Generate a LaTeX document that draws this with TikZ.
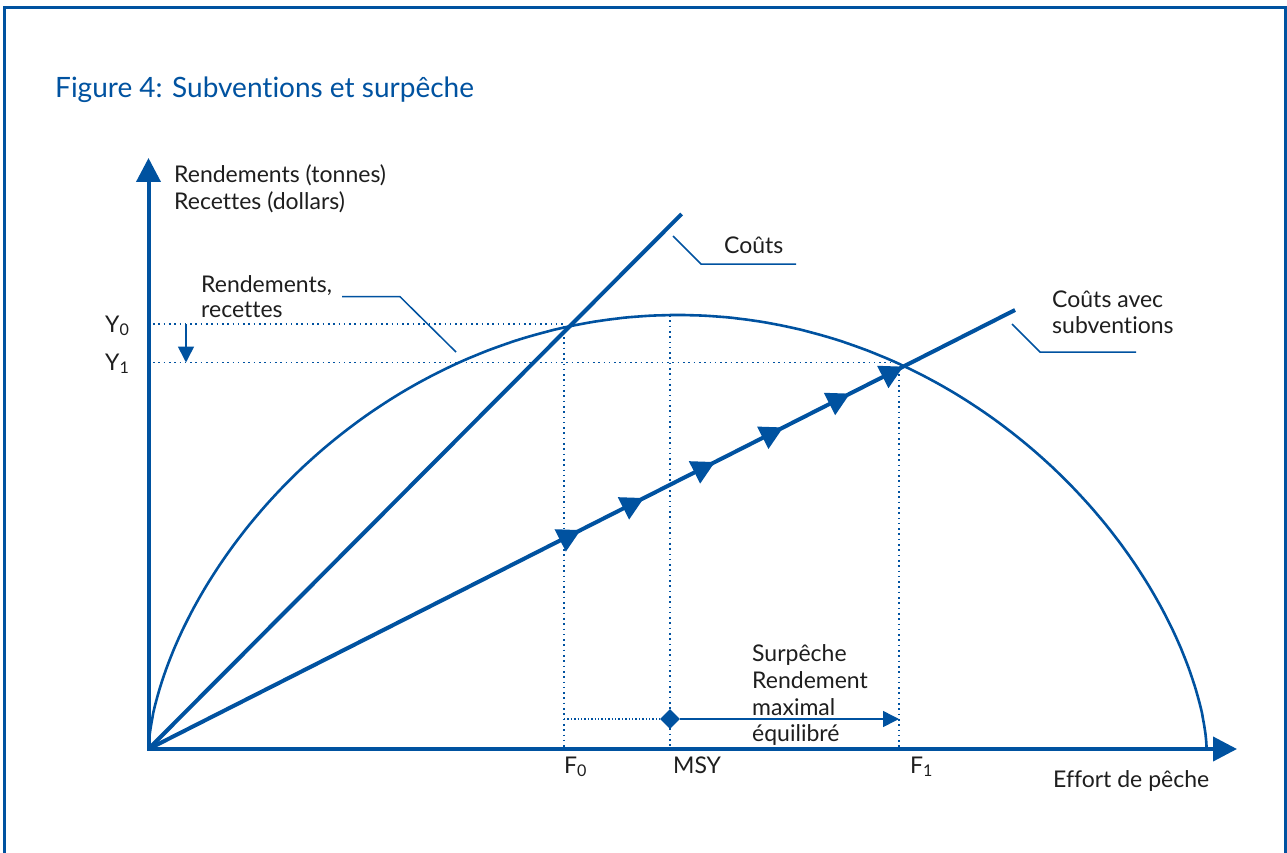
\documentclass[tikz,border=0pt]{standalone}
\usepackage{fontspec}
\setmainfont{Lato}[Ligatures=NoCommon]
\usetikzlibrary{arrows.meta,decorations.markings,shapes.geometric}
\definecolor{fblue}{RGB}{0,82,160}
\definecolor{ftext}{RGB}{30,30,30}
\begin{document}
\begin{tikzpicture}[x=1pt,y=-1pt,
  lbl/.style={anchor=base west, inner sep=0pt, text=ftext, font=\fontsize{23}{27}\selectfont},
  titlestyle/.style={anchor=base west, inner sep=0pt, text=fblue, font=\fontsize{28}{33}\selectfont},
  axisline/.style={line width=4pt, fblue, line join=miter, {Triangle[length=24pt,width=24pt]}-{Triangle[length=24pt,width=24pt]}},
  costline/.style={line width=4pt, fblue},
  curveline/.style={line width=2.6pt, fblue},
  leader/.style={line width=1.5pt, fblue},
  dotline/.style={line width=1.6pt, fblue, dash pattern=on 1.6pt off 3.7pt},
  finedot/.style={line width=1.4pt, fblue, dash pattern=on 1.4pt off 2pt},
  thinarrow/.style={line width=1.6pt, fblue, -{Triangle[length=16pt,width=16pt]}},
  midarrows/.style={decoration={markings,
     mark=at position 0.4988 with {\arrow{Triangle[length=23pt,width=24pt]}},
     mark=at position 0.5718 with {\arrow{Triangle[length=23pt,width=24pt]}},
     mark=at position 0.6538 with {\arrow{Triangle[length=23pt,width=24pt]}},
     mark=at position 0.7326 with {\arrow{Triangle[length=23pt,width=24pt]}},
     mark=at position 0.8096 with {\arrow{Triangle[length=23pt,width=24pt]}},
     mark=at position 0.8711 with {\arrow{Triangle[length=23pt,width=24pt]}}},
     postaction={decorate}}
]
\useasboundingbox (0,0) rectangle (1287,853);
% frame
\coordinate (fa) at (4.5,860);
\coordinate (fb) at (4.5,8);
\coordinate (fc) at (1285.5,8);
\coordinate (fd) at (1285.5,860);
\draw[fblue, line width=3pt] (fa) -- (fb) -- (fc) -- (fd);

% title
\node[titlestyle] (title) at (55,98) {Figure 4: Subventions et surpêche};

% key points
\coordinate (O) at (148.5,749);
\coordinate (ytop) at (148.5,158);
\coordinate (xend) at (1237,749);
\coordinate (cend) at (681.6,214);
\coordinate (send) at (1015,310);

% dotted guides
\coordinate (Y0a) at (153,324);
\coordinate (P0) at (564,324);
\coordinate (F0b) at (564,747);
\coordinate (Mt) at (670,315);
\coordinate (Mb) at (670,747);
\coordinate (Y1a) at (153,362.5);
\coordinate (P1) at (899,362.5);
\coordinate (F1b) at (899,747);
\draw[dotline] (Y0a) -- (P0) -- (F0b);
\draw[dotline] (Mt) -- (Mb);
\draw[dotline] (Y1a) -- (P1) -- (F1b);

% small down arrow Y0 -> Y1
\coordinate (da) at (186,324);
\coordinate (db) at (186,362.5);
\draw[thinarrow] (da) -- (db);

% yield / revenue curve
\draw[curveline] plot[domain=-90:90, samples=241, variable=\t]
  ({677.6+529*sin(\t)},{749-434*pow(max(cos(\t),0.0001),1.24)});

% cost lines
\draw[costline] (O) -- (cend);
\draw[costline, midarrows] (O) -- (send);

% axes
\draw[axisline] (ytop) -- (O) -- (xend);

% overfishing arrow
\coordinate (F0m) at (564,719);
\node[diamond, aspect=1, fill=fblue, inner sep=0pt, minimum size=20pt] (dm) at (670,719) {};
\coordinate (F1m) at (899,719);
\draw[finedot] (F0m) -- (dm);
\draw[thinarrow, line width=1.5pt] (dm) -- (F1m);

% axis labels
\node[lbl] (yl1) at (174,183) {Rendements (tonnes)};
\node[lbl] (yl2) at (174,210) {Recettes (dollars)};
\node[lbl] (xl) at (1053,787) {Effort de pêche};

\node[lbl] (Y0) at (105,332) {Y\textsubscript{0}};
\node[lbl] (Y1) at (105,370) {Y\textsubscript{1}};
\node[lbl] (F0) at (564,773) {F\textsubscript{0}};
\node[lbl] (MSY) at (673,773) {MSY};
\node[lbl] (F1) at (910,773) {F\textsubscript{1}};

% curve label
\node[lbl] (rr1) at (201,292) {Rendements,};
\node[lbl] (rr2) at (201,317) {recettes};
\coordinate (ra) at (342,296.7);
\coordinate (rb) at (400,296.7);
\coordinate (rc) at (456,352);
\draw[leader] (ra) -- (rb) -- (rc);

% costs label
\node[lbl] (couts) at (724,253) {Coûts};
\coordinate (ca) at (673,236);
\coordinate (cb) at (701,264);
\coordinate (cc) at (796,264);
\draw[leader] (ca) -- (cb) -- (cc);

% subsidised costs label
\node[lbl] (cs1) at (1052,307) {Coûts avec};
\node[lbl] (cs2) at (1052,333) {subventions};
\coordinate (sa) at (1012,324);
\coordinate (sb) at (1040,352);
\coordinate (sc) at (1136,352);
\draw[leader] (sa) -- (sb) -- (sc);

% overfishing text
\node[lbl] (s1) at (752,661) {Surpêche};
\node[lbl] (s2) at (752,688) {Rendement};
\node[lbl] (s3) at (752,715) {maximal};
\node[lbl] (s4) at (752,741) {équilibré};
\end{tikzpicture}
\end{document}
